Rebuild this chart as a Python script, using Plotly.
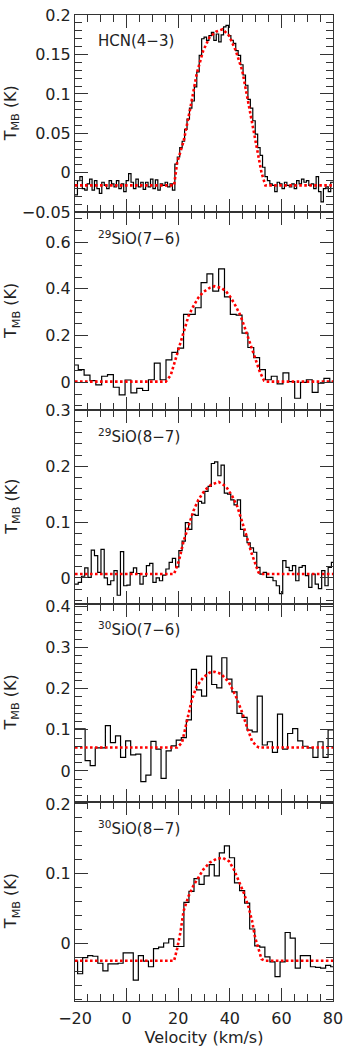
import plotly.graph_objects as go

# ---------------- data ----------------
panel_labels = ["HCN(4−3)", "<sup>29</sup>SiO(7−6)", "<sup>29</sup>SiO(8−7)",
                "<sup>30</sup>SiO(7−6)", "<sup>30</sup>SiO(8−7)"]

# channel grids: first channel lower edge (km/s), channel width (km/s)
hcn_start, hcn_dv = -20.0, 0.944
hcn_t = [-0.028, -0.010, -0.005, -0.020, -0.022, -0.014, -0.008, -0.022, -0.010, -0.020,
         -0.026, -0.012, -0.016, -0.020, -0.010, -0.014, -0.018, -0.010, -0.020, -0.014,
         -0.024, -0.010, -0.001, -0.012, -0.020, -0.008, -0.018, -0.012, -0.021, -0.012,
         -0.018, -0.008, -0.020, -0.009, -0.022, -0.014, -0.016, -0.012, -0.018, -0.014,
         -0.022,
         0.011, 0.020, 0.032, 0.040, 0.055, 0.068, 0.082, 0.091, 0.109, 0.128,
         0.149, 0.170, 0.172, 0.168, 0.174, 0.178, 0.168, 0.176, 0.166, 0.175,
         0.185, 0.187, 0.174, 0.168, 0.164, 0.155, 0.149, 0.137, 0.124, 0.111,
         0.093, 0.082, 0.066, 0.049, 0.032, 0.022, 0.007, -0.005, -0.010, -0.014,
         -0.016, -0.024, -0.012, -0.014, -0.020, -0.012, -0.016, -0.018, -0.014, -0.020,
         -0.010, -0.014, -0.008, -0.012, -0.010, -0.016, -0.014, -0.020, -0.005, -0.024,
         -0.037, -0.020, -0.018, -0.024, -0.012]
hcn_fit_v = [-20, 18.4, 19.6, 22.1, 24.7, 27.2, 29.7, 32.2, 34.7, 37.2, 39.7, 42.3,
             44.8, 47.3, 50.4, 52.3, 53.8, 80]
hcn_fit_t = [-0.016, -0.016, 0.013, 0.040, 0.082, 0.126, 0.155, 0.172, 0.179, 0.182,
             0.174, 0.155, 0.130, 0.086, 0.032, 0.0, -0.016, -0.016]

si29a_start, si29a_dv = -21.0, 2.267
si29a_t = [0.074, 0.054, 0.031, 0.007, -0.011, 0.026, 0.033, -0.021, -0.054, 0.010,
           -0.045, -0.026, -0.035, 0.011, 0.082, 0.011, 0.096, 0.128, 0.146, 0.291,
           0.291, 0.319, 0.426, 0.464, 0.390, 0.485, 0.365, 0.291, 0.287, 0.210,
           0.149, 0.106, 0.054, 0.011, 0.026, -0.007, 0.040, 0.003, -0.068, 0.000,
           0.011, -0.043, -0.004, 0.017, 0.000]
si29a_fit_v = [-20, 15.2, 17.1, 19.0, 20.3, 21.5, 22.8, 24.0, 25.9, 27.8, 29.7, 32.2,
               34.1, 36.6, 38.5, 40.4, 42.3, 44.2, 46.0, 47.3, 48.8, 50.4, 51.7, 53.3,
               54.2, 80]
si29a_fit_t = [0.003, 0.003, 0.030, 0.100, 0.149, 0.199, 0.248, 0.284, 0.326, 0.362,
               0.386, 0.404, 0.411, 0.404, 0.390, 0.362, 0.326, 0.284, 0.227, 0.184,
               0.135, 0.085, 0.043, 0.007, 0.003, 0.003]

si29b_start, si29b_dv = -20.0, 1.258
si29b_t = [-0.011, -0.008, 0.003, 0.018, 0.001, 0.050, 0.040, 0.010, 0.051, 0.000,
           -0.012, -0.005, 0.013, -0.031, 0.047, -0.014, -0.013, 0.010, 0.018, 0.008,
           -0.011, 0.003, 0.022, 0.026, -0.008, 0.000, -0.005, 0.005, 0.016, 0.028,
           0.035, 0.020, 0.049, 0.066, 0.099, 0.087, 0.114, 0.112, 0.137, 0.134,
           0.155, 0.164, 0.205, 0.208, 0.183, 0.202, 0.152, 0.150, 0.140, 0.131,
           0.140, 0.087, 0.075, 0.063, 0.054, 0.046, 0.019, 0.007, 0.010, 0.001,
           0.001, -0.005, -0.014, -0.028, 0.031, 0.019, 0.013, 0.022, -0.005, 0.019,
           0.022, 0.004, -0.017, 0.007, -0.011, -0.019, 0.013, -0.014, 0.019, 0.028]
si29b_fit_v = [-20, 18.4, 20.3, 22.1, 24.0, 25.9, 27.8, 30.3, 32.8, 35.7, 38.5, 41.0,
               42.9, 44.8, 46.7, 48.3, 49.8, 51.1, 52.3, 80]
si29b_fit_t = [0.007, 0.007, 0.031, 0.066, 0.093, 0.120, 0.140, 0.157, 0.167, 0.172,
               0.164, 0.146, 0.128, 0.102, 0.072, 0.046, 0.025, 0.010, 0.007, 0.007]

si30a_start, si30a_dv = -20.0, 1.962
si30a_t = [0.102, 0.102, 0.025, 0.013, 0.056, 0.056, 0.110, 0.069, 0.085, 0.033,
           0.073, 0.039, 0.041, -0.026, -0.010, 0.072, 0.053, -0.018, 0.049, 0.061,
           0.075, 0.081, 0.124, 0.247, 0.197, 0.182, 0.279, 0.210, 0.202, 0.275,
           0.223, 0.192, 0.140, 0.130, 0.099, 0.095, 0.182, 0.063, 0.071, 0.045,
           0.138, 0.053, 0.091, 0.103, 0.073, 0.060, 0.056, 0.033, 0.071, 0.033,
           0.100]
si30a_fit_v = [-20, 19.6, 21.5, 23.4, 25.3, 27.2, 29.7, 32.2, 34.1, 36.6, 39.7, 42.3,
               44.8, 46.7, 48.6, 50.4, 51.3, 80]
si30a_fit_t = [0.057, 0.057, 0.069, 0.118, 0.174, 0.206, 0.227, 0.239, 0.241, 0.236,
               0.215, 0.182, 0.142, 0.106, 0.073, 0.060, 0.057, 0.057]

si30b_start, si30b_dv = -20.96, 1.962
si30b_t = [-0.025, -0.043, -0.020, -0.017, -0.018, -0.028, -0.039, -0.029, -0.029, -0.028,
           -0.013, -0.013, -0.052, -0.017, -0.025, -0.033, -0.007, -0.005, 0.001, 0.007,
           -0.004, -0.004, 0.059, 0.075, 0.093, 0.085, 0.097, 0.113, 0.097, 0.130,
           0.140, 0.123, 0.087, 0.076, 0.058, 0.021, -0.003, -0.005, -0.019, -0.026,
           -0.047, -0.026, 0.016, 0.008, -0.035, -0.017, -0.017, -0.033, -0.034, -0.035,
           -0.031, -0.033]
si30b_fit_v = [-20, 18.4, 19.6, 20.9, 22.1, 24.0, 25.9, 27.8, 29.7, 32.2, 34.7, 37.2,
               39.7, 41.6, 43.5, 45.4, 47.3, 48.6, 49.8, 51.1, 52.3, 53.6, 80]
si30b_fit_t = [-0.0245, -0.0245, -0.007, 0.017, 0.047, 0.068, 0.083, 0.094, 0.106, 0.116,
               0.121, 0.123, 0.118, 0.106, 0.090, 0.073, 0.052, 0.033, 0.009, -0.009,
               -0.022, -0.0245, -0.0245]

# y ranges and tick steps per panel
y_ranges = [[-0.05, 0.2001], [-0.12, 0.7275], [-0.046, 0.3001], [-0.075, 0.4065], [-0.082, 0.203]]
y_dtick = [0.05, 0.2, 0.1, 0.1, 0.1]
y_minor = [0.01, 0.05, 0.02, 0.02, 0.02]
x_range = [-20, 80]

panels = [
    (hcn_start, hcn_dv, hcn_t, hcn_fit_v, hcn_fit_t),
    (si29a_start, si29a_dv, si29a_t, si29a_fit_v, si29a_fit_t),
    (si29b_start, si29b_dv, si29b_t, si29b_fit_v, si29b_fit_t),
    (si30a_start, si30a_dv, si30a_t, si30a_fit_v, si30a_fit_t),
    (si30b_start, si30b_dv, si30b_t, si30b_fit_v, si30b_fit_t),
]

# ---------------- layout geometry ----------------
W, H = 349, 1048
ML, MR, MT, MB = 75, 9, 6, 47
plot_h = H - MT - MB
bounds_px = [6, 205, 405, 600, 800, 1001]   # panel borders (pixels from top)


def py(px):
    return (H - MB - px) / plot_h


FONT = "DejaVu Sans"
fig = go.Figure()
layout = dict(
    width=W, height=H,
    margin=dict(l=ML, r=MR, t=MT, b=MB, pad=0),
    plot_bgcolor="white", paper_bgcolor="white",
    showlegend=False,
    font=dict(family=FONT, size=16, color="#222"),
    annotations=[],
)

for i, (v0, dv, tvals, fv, ft) in enumerate(panels):
    n = i + 1
    xs = "x" if n == 1 else f"x{n}"
    ys = "y" if n == 1 else f"y{n}"
    edges = [v0 + k * dv for k in range(len(tvals) + 1)]
    yvals = list(tvals) + [tvals[-1]]
    fig.add_trace(go.Scatter(x=edges, y=yvals, mode="lines", line_shape="hv",
                             line=dict(color="black", width=1.2),
                             xaxis=xs, yaxis=ys, hoverinfo="skip"))
    fig.add_trace(go.Scatter(x=fv, y=ft, mode="lines",
                             line=dict(color="#ff0000", width=2.6, dash="2.6px,2.4px"),
                             xaxis=xs, yaxis=ys, hoverinfo="skip"))
    dom = [py(bounds_px[i + 1]), py(bounds_px[i])]
    xkey = "xaxis" if n == 1 else f"xaxis{n}"
    ykey = "yaxis" if n == 1 else f"yaxis{n}"
    layout[xkey] = dict(
        domain=[0, 1], anchor=ys, range=x_range,
        showgrid=False, zeroline=False,
        showline=True, linecolor="#333", linewidth=1, mirror="allticks",
        ticks="inside", ticklen=13, tickwidth=1, tickcolor="#333",
        tick0=0, dtick=20,
        minor=dict(ticks="inside", ticklen=7, tickwidth=1, tickcolor="#333", dtick=5, tick0=0,
                   showgrid=False),
        showticklabels=(n == 5),
        ticklabeloverflow="allow",
        ticklabelstandoff=3,
        tickfont=dict(family=FONT, size=16, color="#222"),
    )
    if n == 5:
        layout[xkey]["title"] = dict(text="Velocity (km/s)", font=dict(family=FONT, size=16, color="#222"),
                                     standoff=1)
    layout[ykey] = dict(
        domain=dom, anchor=xs, range=y_ranges[i],
        showgrid=False, zeroline=False,
        showline=True, linecolor="#333", linewidth=1, mirror="allticks",
        ticks="inside", ticklen=13, tickwidth=1, tickcolor="#333",
        tick0=0, dtick=y_dtick[i],
        minor=dict(ticks="inside", ticklen=7, tickwidth=1, tickcolor="#333", dtick=y_minor[i], tick0=0,
                   showgrid=False),
        ticklabeloverflow="allow",
        ticklabelstandoff=0,
        tickfont=dict(family=FONT, size=16, color="#222"),
    )
    # y-axis title as rotated annotation, panel label
    layout["annotations"].append(dict(
        text="T<sub>MB</sub> (K)", xref="paper", yref="paper",
        x=(10 - ML) / (W - ML - MR), y=(dom[0] + dom[1]) / 2,
        xanchor="center", yanchor="middle", textangle=-90, showarrow=False,
        font=dict(family=FONT, size=16, color="#222")))
    layout["annotations"].append(dict(
        text=panel_labels[i], xref="paper", yref="paper",
        x=(97 - ML) / (W - ML - MR), y=py(bounds_px[i] + 26),
        xanchor="left", yanchor="middle", showarrow=False,
        font=dict(family=FONT, size=15, color="#222")))

fig.update_layout(**layout)
# remove the default 8px page margin so the figure sits at the window's top-left corner
fig.write_html("out.html", config={"displayModeBar": False},
               post_script="document.body.style.margin='0';")
